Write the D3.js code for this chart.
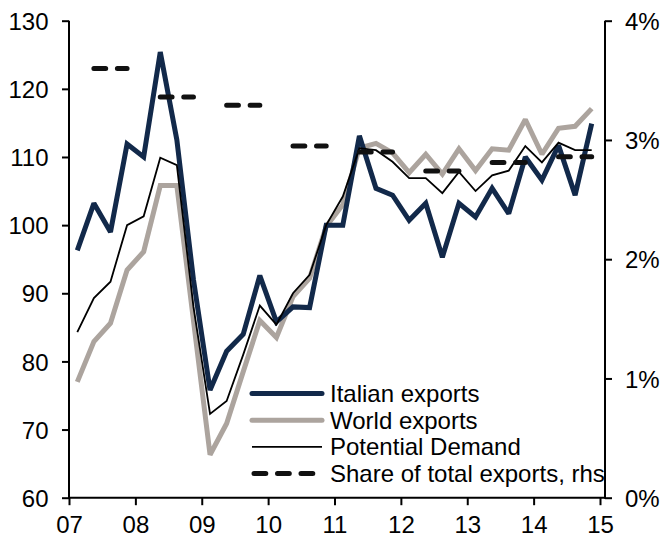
<!DOCTYPE html>
<html>
<head>
<meta charset="utf-8">
<script src="https://cdn.jsdelivr.net/npm/d3@7"></script>
<style>
  html, body { margin: 0; padding: 0; background: #fff; }
  svg { display: block; font-family: "Liberation Sans", Arial, sans-serif; }
</style>
</head>
<body>
<svg id="chart" width="662" height="541"></svg>
<script>
// ---- Data (quarterly, 2007Q1 .. 2014Q4) ----
const quarters = d3.range(32).map(i => (2007 + Math.floor(i / 4)) + "Q" + (i % 4 + 1));
const italianExports = [96.3, 103.2, 99.0, 111.9, 110.0, 125.4, 112.5, 92.0,
  75.8, 81.5, 84.0, 92.6, 85.8, 88.0, 87.9, 100.0,
  100.0, 113.1, 105.4, 104.4, 100.7, 103.2, 95.3, 103.2,
  101.2, 105.4, 101.7, 110.0, 106.6, 111.7, 104.4, 114.9];
const worldExports = [77.0, 82.9, 85.6, 93.4, 96.1, 105.8, 105.8, 86.0,
  66.3, 70.9, 78.5, 86.0, 83.5, 89.5, 92.2, 99.8,
  103.0, 111.3, 112.0, 110.6, 107.7, 110.4, 107.5, 111.2,
  108.0, 111.2, 111.0, 115.5, 110.4, 114.2, 114.5, 117.1];
const potentialDemand = [84.3, 89.3, 91.7, 100.0, 101.3, 109.9, 108.8, 88.0,
  72.3, 74.2, 81.0, 88.2, 85.4, 90.0, 92.7, 100.0,
  104.2, 111.3, 111.0, 109.3, 106.9, 106.9, 104.7, 107.8,
  105.0, 107.3, 108.0, 111.6, 109.2, 112.1, 111.0, 111.0];
// Annual share of total exports (rhs), shown over Q2..Q4 of each year
const shareYears = [2007, 2008, 2009, 2010, 2011, 2012, 2013, 2014];
const shareValues = [0.0360, 0.0336, 0.0329, 0.0295, 0.0290, 0.0274, 0.0281, 0.0286];

const yearTicks = [2007, 2008, 2009, 2010, 2011, 2012, 2013, 2014, 2015];
const yearLabels = ["07", "08", "09", "10", "11", "12", "13", "14", "15"];
const leftTicks = [60, 70, 80, 90, 100, 110, 120, 130];
const rightTicks = [0, 0.01, 0.02, 0.03, 0.04];
const legendLabels = ["Italian exports", "World exports", "Potential Demand", "Share of total exports, rhs"];

(function () {
// ---- Styles ----
const NAVY = "#12294a", GRAY = "#aca49e", BLACK = "#000", DASH = "#111";
const FONT = 24;

const svg = d3.select("#chart");
const pLeft = 69, pRight = 605, xEnd = 600, pTop = 20.7, pBottom = 497.7;

const x = d3.scaleLinear().domain([2007, 2015]).range([pLeft, xEnd]);
const yL = d3.scaleLinear().domain([60, 130]).range([pBottom, pTop]);
const yR = d3.scaleLinear().domain([0, 0.04]).range([pBottom, pTop]);
const qx = i => x(2007 + (i + 0.5) / 4);

// Axes
const axL = svg.append("g").attr("transform", `translate(${pLeft},0)`)
  .call(d3.axisLeft(yL).tickValues(leftTicks).tickFormat(d3.format("d")).tickSize(7).tickPadding(13.5));
const axR = svg.append("g").attr("transform", `translate(${pRight},0)`)
  .call(d3.axisRight(yR).tickValues(rightTicks).tickFormat(d3.format(".0%")).tickSize(7).tickPadding(13));
const axB = svg.append("g").attr("transform", `translate(0,${pBottom})`)
  .call(d3.axisBottom(x).tickValues(yearTicks).tickFormat((d, i) => yearLabels[i]).tickSize(7.5).tickPadding(10.5));

[axL, axR, axB].forEach(g => {
  g.selectAll("path.domain").remove();
  g.selectAll(".tick line").attr("stroke", BLACK).attr("stroke-width", 2);
  g.selectAll(".tick text").attr("fill", BLACK).style("font-size", FONT + "px")
    .style("font-family", '"Liberation Sans", Arial, sans-serif');
});
axL.selectAll(".tick text").attr("dy", "0.36em");
axR.selectAll(".tick text").attr("dy", "0.36em");

// Axis lines
svg.append("line").attr("x1", pLeft).attr("x2", pLeft).attr("y1", yL(130)).attr("y2", pBottom + 1)
  .attr("stroke", BLACK).attr("stroke-width", 2);
svg.append("line").attr("x1", pRight).attr("x2", pRight).attr("y1", yR(0.04)).attr("y2", pBottom + 1)
  .attr("stroke", BLACK).attr("stroke-width", 2);
svg.append("line").attr("x1", pLeft - 1).attr("x2", pRight + 1).attr("y1", pBottom).attr("y2", pBottom)
  .attr("stroke", BLACK).attr("stroke-width", 2);

// Lines
const line = d3.line().x((d, i) => qx(i)).y(d => yL(d));
svg.append("path").datum(worldExports).attr("d", line)
  .attr("fill", "none").attr("stroke", GRAY).attr("stroke-width", 5).attr("stroke-linejoin", "miter").attr("stroke-miterlimit", 2);
svg.append("path").datum(italianExports).attr("d", line)
  .attr("fill", "none").attr("stroke", NAVY).attr("stroke-width", 5).attr("stroke-linejoin", "miter").attr("stroke-miterlimit", 2);
svg.append("path").datum(potentialDemand).attr("d", line)
  .attr("fill", "none").attr("stroke", BLACK).attr("stroke-width", 1.8);

// Share segments: Q2..Q4 of each year
const DASHES = "11.8,11.7";
svg.append("g").selectAll("line").data(shareYears).join("line")
  .attr("x1", d => x(d + 1.5 / 4))
  .attr("x2", d => x(d + 3.5 / 4))
  .attr("y1", (d, i) => yR(shareValues[i]))
  .attr("y2", (d, i) => yR(shareValues[i]))
  .attr("stroke", DASH).attr("stroke-width", 5).attr("stroke-linecap", "round")
  .attr("stroke-dasharray", DASHES);

// Legend
const legendY = [393.5, 420.2, 446.8, 473.5];
const legendStyles = [
  {stroke: NAVY, w: 5, dash: null},
  {stroke: GRAY, w: 5, dash: null},
  {stroke: BLACK, w: 1.8, dash: null},
  {stroke: DASH, w: 5, dash: DASHES}
];
const lg = svg.append("g");
legendLabels.forEach((lab, i) => {
  const s = legendStyles[i];
  const ln = lg.append("line")
    .attr("x1", s.dash ? 254 : 252).attr("x2", s.dash ? 313 : 322)
    .attr("y1", legendY[i]).attr("y2", legendY[i])
    .attr("stroke", s.stroke).attr("stroke-width", s.w);
  if (s.dash) ln.attr("stroke-dasharray", s.dash).attr("stroke-linecap", "round");
  else if (s.w > 3) ln.attr("stroke-linecap", "round");
  lg.append("text").attr("x", 330).attr("y", legendY[i]).attr("dy", "0.36em")
    .attr("fill", BLACK).style("font-size", FONT + "px").text(lab);
});
})();
</script>
</body>
</html>
